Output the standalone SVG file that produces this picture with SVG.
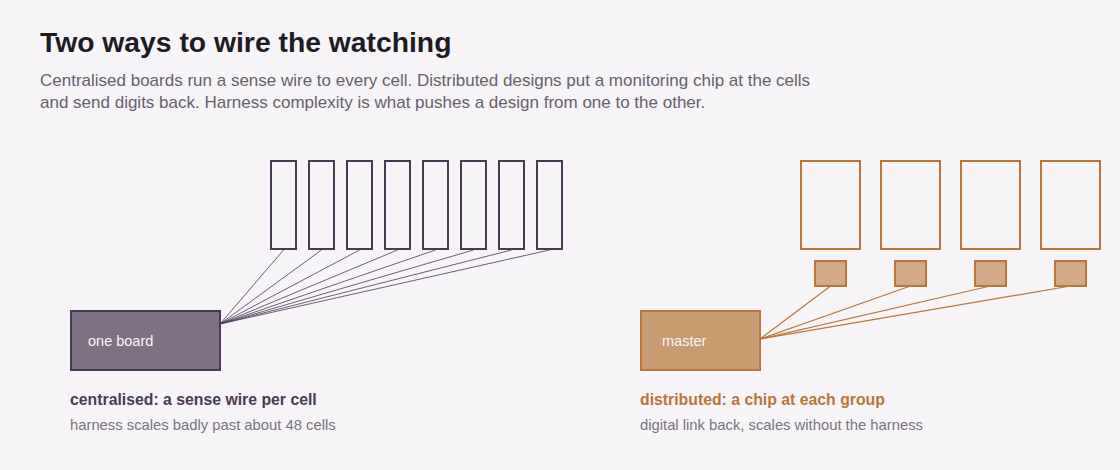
<svg xmlns="http://www.w3.org/2000/svg" width="1120" height="470" viewBox="0 0 1120 470">
<style>
text{font-family:"Liberation Sans",Arial,sans-serif}
.title{font-size:28.3px;font-weight:bold;fill:#1f1b24}
.sub{font-size:17px;fill:#67616d}
.cellA{fill:#f6f4f7;stroke:#4a3a55;stroke-width:2}
.cellB{fill:#f6f4f7;stroke:#b8773b;stroke-width:2}
.chip{fill:#d3a885;stroke:#b8773b;stroke-width:2}
.boardA{fill:#7e7183;stroke:#4a3a55;stroke-width:2}
.boardB{fill:#c99b70;stroke:#b8773b;stroke-width:2}
.blabel{font-size:14.5px;fill:#f8f4f6}
.wA{stroke:#4a3a55;stroke-width:0.8;fill:none}
.wB{stroke:#b8773b;stroke-width:1.2;fill:none}
.capA{font-size:15.8px;font-weight:bold;fill:#4a3a55}
.capB{font-size:15.8px;font-weight:bold;fill:#b8773b}
.note{font-size:14.8px;fill:#7a7480}
</style>
<rect width="1120" height="470" fill="#f6f4f7"/>
<text class="title" x="40" y="52">Two ways to wire the watching</text>
<text class="sub" x="40" y="86">Centralised boards run a sense wire to every cell. Distributed designs put a monitoring chip at the cells</text>
<text class="sub" x="40" y="108">and send digits back. Harness complexity is what pushes a design from one to the other.</text>
<g id="connectors">
<line class="wA" x1="283.5" y1="250" x2="220" y2="324"/>
<line class="wA" x1="321.5" y1="250" x2="220" y2="324"/>
<line class="wA" x1="359.5" y1="250" x2="220" y2="324"/>
<line class="wA" x1="397.5" y1="250" x2="220" y2="324"/>
<line class="wA" x1="435.5" y1="250" x2="220" y2="324"/>
<line class="wA" x1="473.5" y1="250" x2="220" y2="324"/>
<line class="wA" x1="511.5" y1="250" x2="220" y2="324"/>
<line class="wA" x1="549.5" y1="250" x2="220" y2="324"/>
<line class="wB" x1="830.5" y1="286" x2="760" y2="339"/>
<line class="wB" x1="910.5" y1="286" x2="760" y2="339"/>
<line class="wB" x1="990.5" y1="286" x2="760" y2="339"/>
<line class="wB" x1="1070.5" y1="286" x2="760" y2="339"/>
</g>
<g id="cellsA">
<rect id="cellA1" class="cellA" x="271" y="161" width="25" height="88"/>
<rect id="cellA2" class="cellA" x="309" y="161" width="25" height="88"/>
<rect id="cellA3" class="cellA" x="347" y="161" width="25" height="88"/>
<rect id="cellA4" class="cellA" x="385" y="161" width="25" height="88"/>
<rect id="cellA5" class="cellA" x="423" y="161" width="25" height="88"/>
<rect id="cellA6" class="cellA" x="461" y="161" width="25" height="88"/>
<rect id="cellA7" class="cellA" x="499" y="161" width="25" height="88"/>
<rect id="cellA8" class="cellA" x="537" y="161" width="25" height="88"/>
</g>
<g id="board">
<rect class="boardA" x="71" y="311" width="149" height="59"/>
<text class="blabel" x="88" y="346">one board</text>
</g>
<g id="cellsB">
<rect id="groupB1" class="cellB" x="801" y="161" width="59" height="88"/>
<rect id="groupB2" class="cellB" x="881" y="161" width="59" height="88"/>
<rect id="groupB3" class="cellB" x="961" y="161" width="59" height="88"/>
<rect id="groupB4" class="cellB" x="1041" y="161" width="59" height="88"/>
</g>
<g id="chips">
<rect id="chip1" class="chip" x="815" y="261" width="31" height="25"/>
<rect id="chip2" class="chip" x="895" y="261" width="31" height="25"/>
<rect id="chip3" class="chip" x="975" y="261" width="31" height="25"/>
<rect id="chip4" class="chip" x="1055" y="261" width="31" height="25"/>
</g>
<g id="master">
<rect class="boardB" x="641" y="311" width="119" height="59"/>
<text class="blabel" x="662" y="346">master</text>
</g>
<g id="captions">
<text class="capA" x="70" y="405">centralised: a sense wire per cell</text>
<text class="note" x="70" y="430">harness scales badly past about 48 cells</text>
<text class="capB" x="640" y="405">distributed: a chip at each group</text>
<text class="note" x="640" y="430">digital link back, scales without the harness</text>
</g>
</svg>
